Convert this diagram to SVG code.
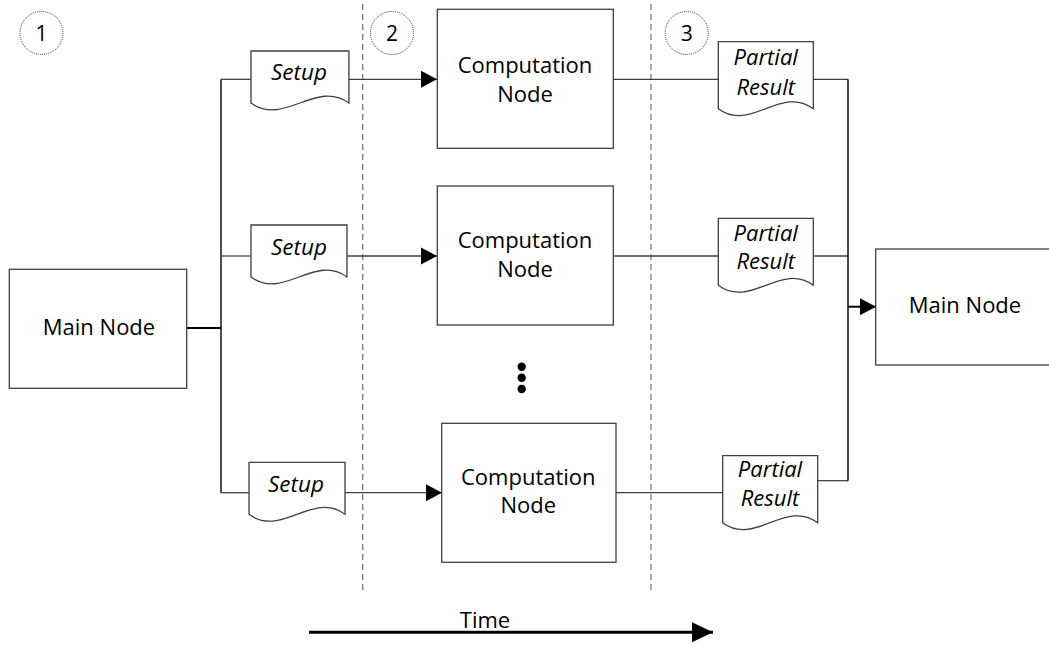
<svg xmlns="http://www.w3.org/2000/svg" width="1049" height="645" viewBox="0 0 1049 645">
<style>
text{font-family:"Open Sans","Liberation Sans",sans-serif;font-size:22px;fill:#000;text-anchor:middle}
.it{font-style:italic}
.box{fill:#fff;stroke:#404040;stroke-width:1.3}
.doc{fill:#fff;stroke:#404040;stroke-width:1.3}
.ln{fill:none;stroke:#404040;stroke-width:1.3}
.bus{fill:none;stroke:#000;stroke-width:1.4}
.dash{fill:none;stroke:#7a7a7a;stroke-width:1.3;stroke-dasharray:6 4}
.step{fill:#fff;stroke:#333;stroke-width:1;stroke-dasharray:1 1}
.num{font-size:21px}
</style>
<defs>
<marker id="ah" markerUnits="userSpaceOnUse" markerWidth="17" markerHeight="18" refX="16" refY="9" orient="auto">
<path d="M0,0.5 L16,9 L0,17.5 Z" fill="#000"/>
</marker>
<marker id="ahT" markerUnits="userSpaceOnUse" markerWidth="22" markerHeight="22" refX="21" refY="11" orient="auto">
<path d="M0,1 L21,11 L0,21 Z" fill="#000"/>
</marker>
<path id="setupShape" d="M0,0 H96 V52 C64,28 32,76 0,52 Z"/>
<path id="partialShape" d="M0,0 H95 V67 C63,43 32,91 0,67 Z"/>
</defs>

<g id="phase-lines">
<line class="dash" x1="362.7" y1="4" x2="362.7" y2="590"/>
<line class="dash" x1="651" y1="4" x2="651" y2="590"/>
</g>

<g id="connectors">
<line class="ln" x1="187" y1="328" x2="221" y2="328" style="stroke-width:2;stroke:#000"/>
<line class="bus" x1="221" y1="79.3" x2="221" y2="492.7"/>
<line class="ln" x1="221" y1="79.3" x2="251" y2="79.3"/>
<line class="ln" x1="221" y1="256" x2="251" y2="256"/>
<line class="ln" x1="221" y1="492.7" x2="249" y2="492.7"/>
<line class="ln" x1="347" y1="79.3" x2="437" y2="79.3" marker-end="url(#ah)"/>
<line class="ln" x1="347" y1="256" x2="437" y2="256" marker-end="url(#ah)"/>
<line class="ln" x1="344" y1="492.7" x2="442" y2="492.7" marker-end="url(#ah)"/>
<line class="ln" x1="613" y1="79.3" x2="718" y2="79.3"/>
<line class="ln" x1="613" y1="256" x2="718" y2="256"/>
<line class="ln" x1="616" y1="492.7" x2="723" y2="492.7"/>
<line class="ln" x1="813" y1="79.3" x2="848" y2="79.3"/>
<line class="ln" x1="813" y1="256" x2="848" y2="256"/>
<line class="ln" x1="818" y1="480.7" x2="848" y2="480.7"/>
<line class="bus" x1="848" y1="79.3" x2="848" y2="480.7"/>
<line class="bus" x1="848" y1="306.7" x2="876" y2="306.7" marker-end="url(#ah)" style="stroke-width:2"/>
</g>

<g id="step1"><circle class="step" cx="41.5" cy="33" r="21.5"/><text class="num" x="41.5" y="40.8">1</text></g>
<g id="step2"><circle class="step" cx="392" cy="33" r="21.5"/><text class="num" x="392" y="40.8">2</text></g>
<g id="step3"><circle class="step" cx="686.7" cy="33" r="21.5"/><text class="num" x="686.7" y="40.8">3</text></g>

<g id="main-node-1">
<rect class="box" x="9.3" y="269.3" width="177.4" height="119"/>
<text x="99" y="335">Main Node</text>
</g>

<g id="setup-1">
<use href="#setupShape" class="doc" transform="translate(251,51) scale(1.02,1)"/>
<text class="it" x="299" y="80" style="font-size:22.5px">Setup</text>
</g>
<g id="setup-2">
<use href="#setupShape" class="doc" transform="translate(251,225)"/>
<text class="it" x="299" y="255" style="font-size:22.5px">Setup</text>
</g>
<g id="setup-3">
<use href="#setupShape" class="doc" transform="translate(249,462.3)"/>
<text class="it" x="296" y="491.7" style="font-size:22.5px">Setup</text>
</g>

<g id="computation-node-1">
<rect class="box" x="437.3" y="9.3" width="176" height="139"/>
<text x="525" y="72.7">Computation</text>
<text x="525" y="101.7">Node</text>
</g>
<g id="computation-node-2">
<rect class="box" x="437.3" y="186" width="176" height="139"/>
<text x="525" y="247.7">Computation</text>
<text x="525" y="276.7">Node</text>
</g>
<g id="ellipsis">
<circle cx="521.7" cy="366.7" r="4.2" fill="#000"/>
<circle cx="521.7" cy="377.8" r="4.2" fill="#000"/>
<circle cx="521.7" cy="389" r="4.2" fill="#000"/>
</g>
<g id="computation-node-3">
<rect class="box" x="441.7" y="423.3" width="174.3" height="139"/>
<text x="528.3" y="485">Computation</text>
<text x="528.3" y="513.3">Node</text>
</g>

<g id="partial-result-1">
<use href="#partialShape" class="doc" transform="translate(718.3,41.7)"/>
<text class="it" x="765.7" y="65">Partial</text>
<text class="it" x="765.7" y="95">Result</text>
</g>
<g id="partial-result-2">
<use href="#partialShape" class="doc" transform="translate(718.3,218.3)"/>
<text class="it" x="765.7" y="240.5">Partial</text>
<text class="it" x="765.7" y="268.5">Result</text>
</g>
<g id="partial-result-3">
<use href="#partialShape" class="doc" transform="translate(722.7,455.7)"/>
<text class="it" x="770" y="476.7">Partial</text>
<text class="it" x="770" y="506">Result</text>
</g>

<g id="main-node-2">
<rect class="box" x="875.7" y="249" width="180" height="116"/>
<text x="965" y="313.3">Main Node</text>
</g>

<g id="time-axis">
<line x1="309" y1="632.3" x2="713" y2="632.3" stroke="#000" stroke-width="3" marker-end="url(#ahT)"/>
<text x="485" y="627.7">Time</text>
</g>
</svg>
